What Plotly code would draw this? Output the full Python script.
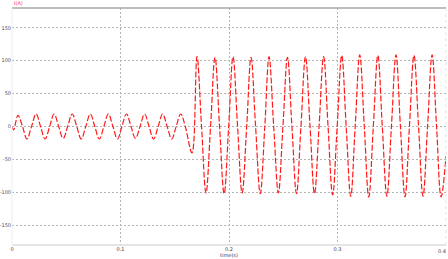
import plotly.graph_objects as go

# time (s) and current (A) (peaks, troughs, crossings)
time_s = [0.000, 0.0015, 0.0055, 0.0097, 0.0138, 0.0180, 0.0222, 0.0263, 0.0305, 0.0347,
          0.0388, 0.0430, 0.0472, 0.0513, 0.0555, 0.0597, 0.0638, 0.0680, 0.0722, 0.0763,
          0.0805, 0.0847, 0.0888, 0.0930, 0.0972, 0.1013, 0.1055, 0.1097, 0.1138, 0.1180,
          0.1222, 0.1263, 0.1305, 0.1347, 0.1388, 0.1430, 0.1472, 0.1513, 0.1555, 0.1597,
          0.1659,
          0.1705, 0.1747, 0.1788, 0.1830, 0.1871, 0.1913, 0.1955, 0.1997, 0.2037, 0.2079,
          0.2121, 0.2163, 0.2203, 0.2245, 0.2288, 0.2330, 0.2369, 0.2412, 0.2455, 0.2497,
          0.2539, 0.2580, 0.2622, 0.2663, 0.2705, 0.2747, 0.2788, 0.2830, 0.2872, 0.2913,
          0.2955, 0.2997, 0.3039, 0.3080, 0.3122, 0.3163, 0.3205, 0.3247, 0.3288, 0.3330,
          0.3372, 0.3413, 0.3455, 0.3497, 0.3539, 0.3580, 0.3622, 0.3663, 0.3705, 0.3747,
          0.3788, 0.3830, 0.3872, 0.3913, 0.3955, 0.4000]
current_a = [0, -5, 17, 0, -19, 0, 19, 0, -19, 0,
             19, 0, -18, 0, 19, 0, -19, 0, 19, 0,
             -19, 0, 19, 0, -19, 0, 19, 0, -18, 0,
             19, 0, -19, 0, 19, 0, -19, 0, 19, 0,
             -40,
             106, 0, -101, 0, 105, 0, -102, 0, 106, 0,
             -101, 0, 105, 0, -102, 0, 106, 0, -101, 0,
             105, 0, -102, 0, 106, 0, -102, 0, 106, 0,
             -104, 0, 108, 0, -106, 0, 109, 0, -107, 0,
             108, 0, -106, 0, 109, 0, -107, 0, 108, 0,
             -106, 0, 109, 0, -107, -45]

x_ticks = [0, 0.1, 0.2, 0.3, 0.4]
x_tick_labels = ["0", "0.1", "0.2", "0.3", "0.4"]
y_ticks = [-150, -100, -50, 0, 50, 100, 150]
y_tick_labels = ["-150", "-100", "-50", "0", "50", "100", "150"]

fig = go.Figure()
fig.add_trace(go.Scatter(
    x=time_s, y=current_a, mode="lines",
    line=dict(color="#ff1a1a", width=1.2, dash="6px,2px", shape="spline", smoothing=1.1),
    showlegend=False, hoverinfo="skip",
))

grid_col = "#b4b4b4"
# last x label is placed as a right-aligned annotation so it stays inside the page
shown_x_labels = x_tick_labels[:-1] + [""]
fig.update_layout(
    width=448, height=259,
    margin=dict(l=12, r=2, t=8, b=14, autoexpand=False),
    paper_bgcolor="white", plot_bgcolor="white",
    font=dict(family="DejaVu Sans", size=5, color="#4a4a6a"),
    xaxis=dict(range=[0, 0.4], tickvals=x_ticks, ticktext=shown_x_labels,
               showgrid=True, gridcolor=grid_col, griddash="2px,2px", gridwidth=1,
               zeroline=False, showline=False, ticks="",
               automargin=False,
               tickfont=dict(size=5, color="#3a3a5a"),
               title=dict(text="time(s)", font=dict(size=5, color="#2a3a6a"), standoff=1)),
    yaxis=dict(range=[-180, 180], tickvals=y_ticks, ticktext=y_tick_labels,
               showgrid=True, gridcolor=grid_col, griddash="2px,2px", gridwidth=1,
               zeroline=False, showline=False, ticks="", automargin=False,
               tickfont=dict(size=5, color="#4a4a6a")),
    shapes=[
        dict(type="line", xref="paper", yref="paper", x0=0, x1=1, y0=1, y1=1,
             line=dict(color="#a8a8a8", width=1.5)),
        dict(type="line", xref="paper", yref="paper", x0=0, x1=1, y0=0, y1=0,
             line=dict(color="#dcdcdc", width=1.5)),
        dict(type="line", xref="paper", yref="paper", x0=0, x1=0, y0=0, y1=1,
             line=dict(color="#eeeeee", width=1)),
        dict(type="line", xref="paper", yref="paper", x0=1, x1=1, y0=0, y1=1,
             line=dict(color="#e2e2e2", width=1, dash="dot")),
    ],
    annotations=[
        dict(text="I(A)", xref="paper", yref="paper", x=0, y=1, xanchor="left",
             yanchor="bottom", showarrow=False, yshift=0,
             font=dict(size=5, color="#ff3060")),
        dict(text=x_tick_labels[-1], xref="paper", yref="paper", x=1, y=0,
             xanchor="right", yanchor="top", showarrow=False, xshift=2, yshift=-1,
             font=dict(size=5, color="#3a3a5a")),
    ],
)

fig.write_html("out.html")
